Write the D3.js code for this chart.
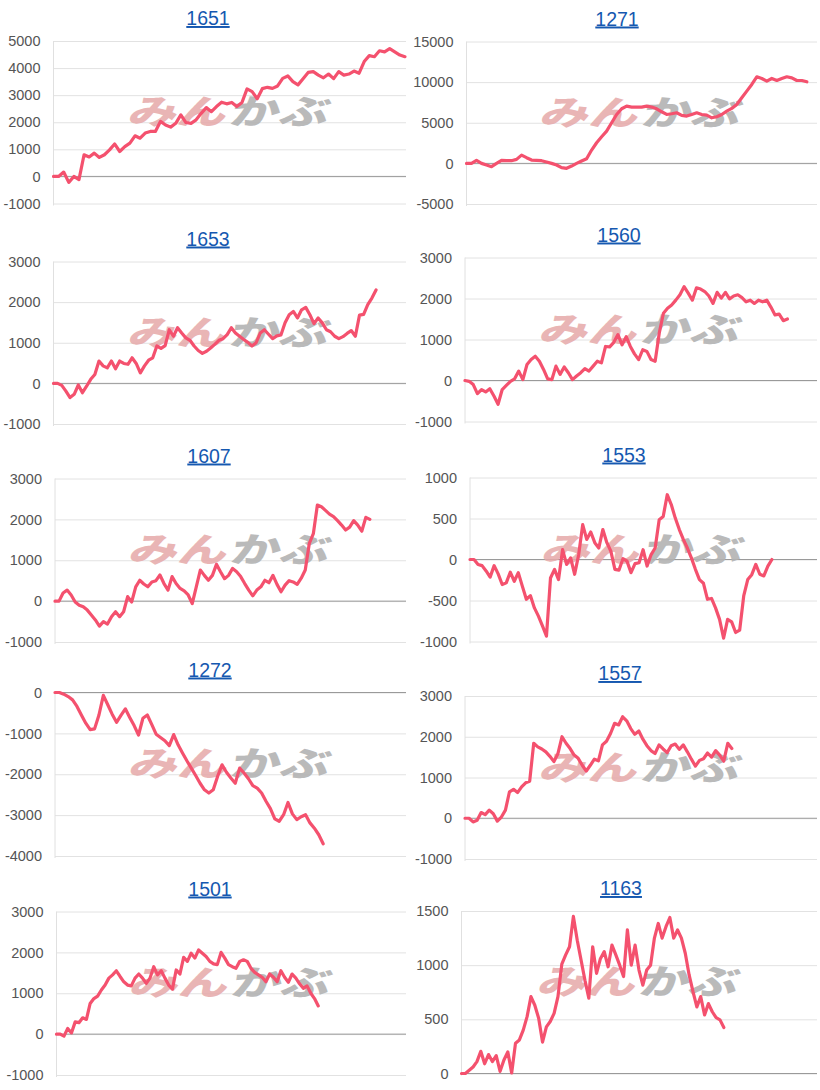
<!DOCTYPE html>
<html><head><meta charset="utf-8">
<script src="https://cdn.jsdelivr.net/npm/d3@7"></script>
<style>
html,body{margin:0;padding:0;background:#fff;}
svg{display:block;}
</style></head>
<body>
<svg id="chart" width="820" height="1090"></svg>
<script>
// ---- data ----
const titles = ["1651","1271","1653","1560","1607","1553","1272","1557","1501","1163"];

const s1651 = [0,0,160,-220,0,-120,800,720,860,700,800,980,1200,920,1100,1230,1500,1410,1600,1660,1660,2030,1900,1820,1960,2270,1990,1960,2090,2330,2540,2390,2580,2740,2680,2730,2580,2730,3230,3130,2870,3240,3290,3250,3340,3620,3710,3500,3380,3610,3840,3870,3740,3640,3780,3610,3870,3740,3780,3890,3810,4240,4460,4420,4640,4600,4720,4600,4480,4420];
const s1271 = [0,0,370,0,-200,-410,0,370,330,330,490,1020,700,410,370,330,160,0,-200,-530,-610,-330,0,290,570,1640,2540,3280,3970,5000,6020,6720,7050,6930,6930,6930,7050,6930,6720,6350,6020,6110,6230,5900,5820,6020,6230,6020,5940,5610,5740,6020,6430,6760,7250,8070,8890,9710,10660,10450,10120,10450,10200,10450,10660,10530,10200,10200,10040];
const s1653 = [0,0,-50,-190,-350,-270,-40,-230,-70,100,220,550,430,380,550,360,550,490,470,630,490,260,430,570,630,920,860,930,1320,1160,1370,1240,1120,1060,920,810,740,790,870,960,1060,1100,1200,1370,1240,1160,1080,1010,920,1000,1240,1320,1210,1100,1170,1190,1490,1690,1770,1610,1810,1870,1690,1470,1610,1490,1320,1270,1160,1100,1150,1230,1300,1160,1680,1700,1940,2100,2300];
const s1560 = [0,-20,-100,-320,-220,-280,-200,-380,-580,-220,-120,-20,40,230,20,390,510,590,470,270,40,20,350,150,330,190,20,110,190,290,230,350,470,430,830,820,930,1120,870,1070,830,650,510,750,710,510,470,1160,1640,1760,1840,1960,2090,2290,2130,1960,2260,2230,2170,2060,1880,2150,2010,2150,1990,2060,2090,2020,1920,1960,1880,1960,1920,1960,1790,1600,1620,1460,1500];
const s1607 = [0,0,200,270,150,-20,-100,-140,-220,-340,-460,-610,-500,-560,-380,-260,-380,-260,110,-20,350,510,420,350,470,500,640,430,270,600,430,310,250,150,-60,350,760,630,510,630,900,720,550,630,800,720,600,430,270,130,270,350,510,450,630,410,230,390,500,470,410,560,760,1410,1650,2350,2310,2220,2130,2070,1970,1860,1740,1810,1970,1860,1710,2050,2000];
const s1553 = [0,0,-60,-75,-140,-215,-75,-175,-305,-285,-155,-265,-160,-325,-485,-440,-590,-690,-810,-935,-225,-120,-245,120,-60,20,-180,60,425,245,335,205,140,365,205,100,-120,-130,10,-20,-160,-50,-40,120,-80,60,140,485,525,790,670,505,365,245,140,20,-120,-245,-290,-485,-475,-590,-730,-960,-730,-760,-890,-860,-445,-245,-185,-60,-180,-200,-80,0];
const s1272 = [0,0,-40,-100,-180,-340,-550,-750,-910,-890,-550,-70,-300,-530,-730,-560,-400,-610,-810,-1040,-630,-550,-780,-1020,-1100,-1180,-1300,-1030,-1280,-1480,-1670,-1850,-2030,-2220,-2380,-2460,-2380,-2050,-1770,-1950,-2090,-2220,-1850,-1970,-2110,-2280,-2340,-2460,-2660,-2840,-3090,-3150,-2990,-2690,-2970,-3110,-3040,-2990,-3190,-3320,-3480,-3700];
const s1557 = [0,0,-90,-50,140,90,200,110,-70,30,200,650,710,630,770,870,910,1840,1750,1700,1630,1520,1390,1590,2000,1840,1710,1550,1470,1300,1160,1300,1450,1410,1800,1890,2080,2330,2290,2490,2390,2200,2060,2140,1940,1780,1660,1590,1800,1700,1610,1780,1820,1690,1800,1630,1450,1280,1420,1460,1600,1500,1660,1550,1400,1840,1710];
const s1501 = [0,0,-50,140,30,300,280,400,360,750,870,930,1080,1200,1370,1450,1550,1410,1280,1200,1180,1370,1470,1370,1240,1370,1650,1450,1550,1370,1200,1100,1570,1470,1880,1780,1980,1860,2060,1980,1900,1780,1720,1700,2000,1860,1700,1650,1610,1780,1820,1780,1610,1510,1450,1390,1280,1470,1390,1280,1550,1390,1270,1470,1370,1230,1120,1180,1000,870,690];
const s1163 = [0,0,30,60,110,205,90,175,110,165,20,125,200,5,280,310,400,525,710,630,510,290,430,480,555,710,1010,1095,1170,1450,1230,1045,860,695,1170,925,1060,1125,985,1185,1095,1000,895,1325,1000,1185,955,815,955,1000,1250,1385,1250,1355,1440,1250,1325,1250,1110,910,755,615,710,540,645,570,515,495,425];

const seriesList = [s1651,s1271,s1653,s1560,s1607,s1553,s1272,s1557,s1501,s1163];

const ticks1651 = [-1000,0,1000,2000,3000,4000,5000];
const ticks1271 = [-5000,0,5000,10000,15000];
const ticks1653 = [-1000,0,1000,2000,3000];
const ticks1560 = [-1000,0,1000,2000,3000];
const ticks1607 = [-1000,0,1000,2000,3000];
const ticks1553 = [-1000,-500,0,500,1000];
const ticks1272 = [-4000,-3000,-2000,-1000,0];
const ticks1557 = [-1000,0,1000,2000,3000];
const ticks1501 = [-1000,0,1000,2000,3000];
const ticks1163 = [0,500,1000,1500];
const tickList = [ticks1651,ticks1271,ticks1653,ticks1560,ticks1607,ticks1553,ticks1272,ticks1557,ticks1501,ticks1163];

// ---- layout (pixels) ----
const layout = [
  {l:53.5, r:406, t:41,  b:203.5, tx:208, span:0.997},
  {l:466.5,r:817, t:41.5,b:204,   tx:617, span:0.971},
  {l:53.5, r:406, t:261.5,b:424,  tx:208, span:0.915},
  {l:465,  r:817, t:257.5,b:421.5,tx:619, span:0.916},
  {l:55,   r:406, t:478.5,b:642,  tx:209, span:0.897},
  {l:470,  r:817, t:477.5,b:641.5,tx:624, span:0.870},
  {l:55,   r:406, t:692.5,b:856,  tx:210, span:0.764},
  {l:465,  r:817, t:696,  b:859,  tx:620, span:0.758},
  {l:56.5, r:406, t:911.5,b:1075, tx:210, span:0.749},
  {l:461.5,r:817, t:911,  b:1073.5,tx:621, span:0.738}
];

const svg = d3.select("#chart");
const FONT = "Arial, 'Liberation Sans', sans-serif";
const LINE = "#f4516e";

seriesList.forEach((vals, i) => {
  const L = layout[i];
  const tv = tickList[i];
  const g = svg.append("g");
  const y = d3.scaleLinear().domain(d3.extent(tv)).range([L.b, L.t]);
  const x = d3.scaleLinear().domain([0, (vals.length - 1) / L.span]).range([L.l, L.r]);

  // title
  g.append("text")
    .attr("x", L.tx).attr("y", L.t - 16)
    .attr("text-anchor", "middle")
    .attr("font-family", FONT).attr("font-size", 19.5)
    .attr("fill", "#1558b0")
    .attr("text-decoration", "underline")
    .text(titles[i]);

  // gridlines via axis
  const grid = g.append("g").attr("transform", `translate(${L.l},0)`)
    .call(d3.axisRight(y).tickValues(tv).tickSize(L.r - L.l).tickFormat(""));
  grid.select(".domain").remove();
  grid.selectAll(".tick line").attr("stroke", "#e2e2e2").attr("stroke-width", 1);

  // labels
  const ax = g.append("g").attr("transform", `translate(${L.l - 13},0)`)
    .call(d3.axisLeft(y).tickValues(tv).tickSize(0).tickPadding(0).tickFormat(d => String(d)));
  ax.select(".domain").remove();
  ax.selectAll("text").attr("font-family", FONT).attr("font-size", 14.5).attr("fill", "#555");

  // vertical axis line
  g.append("line").attr("x1", L.l).attr("x2", L.l).attr("y1", L.t).attr("y2", L.b + 2)
    .attr("stroke", "#e0e0e0").attr("stroke-width", 1);

  // zero baseline
  g.append("line").attr("x1", L.l).attr("x2", L.r).attr("y1", y(0)).attr("y2", y(0))
    .attr("stroke", "#9a9a9a").attr("stroke-width", 1);

  // watermark
  const cx = (L.l + L.r) / 2, cy = (L.t + L.b) / 2 - 10;
  const wm = g.append("g").attr("transform", `translate(${cx},${cy}) skewX(-14) scale(1.45,1)`);
  wm.append("text").attr("x", -1).attr("y", 12).attr("text-anchor", "end")
    .attr("font-family", "'Noto Sans CJK JP', sans-serif").attr("font-weight", 900)
    .attr("font-size", 34).attr("fill", "#e6a9a9").attr("opacity", 0.85).text("みん");
  wm.append("text").attr("x", 1).attr("y", 12).attr("text-anchor", "start")
    .attr("font-family", "'Noto Sans CJK JP', sans-serif").attr("font-weight", 900)
    .attr("font-size", 34).attr("fill", "#b3b3b3").attr("opacity", 0.9).text("かぶ");

  // line
  const line = d3.line().x((d, k) => x(k)).y(d => y(d)).curve(d3.curveLinear);
  g.append("path").datum(vals).attr("d", line)
    .attr("fill", "none").attr("stroke", LINE).attr("stroke-width", 3.2)
    .attr("stroke-linejoin", "round").attr("stroke-linecap", "round");
});
</script>
</body></html>
